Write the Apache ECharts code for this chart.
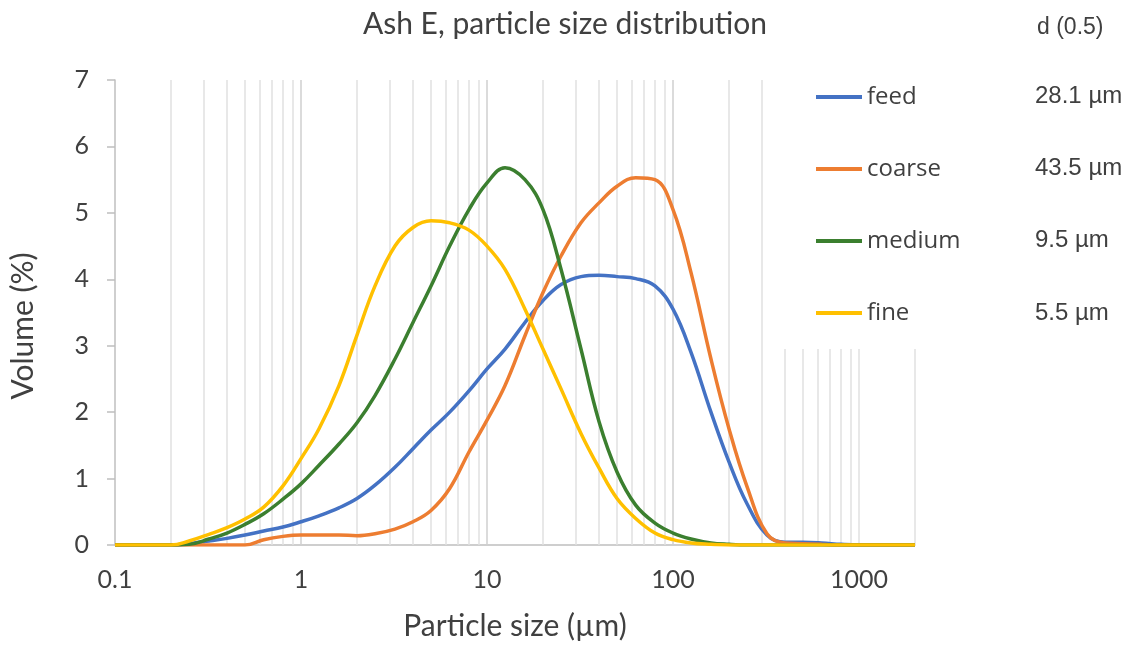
<!DOCTYPE html>
<html>
<head>
<meta charset="utf-8">
<title>Ash E, particle size distribution</title>
<script src="https://cdn.jsdelivr.net/npm/echarts@6/dist/echarts.min.js"></script>
<style>
  html, body { margin: 0; padding: 0; background: #ffffff; }
  #chart { width: 1138px; height: 646px; }
</style>
</head>
<body>
<div id="chart"></div>
<script>
// particle sizes (um) the curves are sampled at, roughly 10 per decade
const sizes = [0.1, 0.2, 0.25, 0.32, 0.4, 0.5, 0.63, 0.8, 1, 1.25, 1.6, 2, 2.5, 3.2, 4, 5, 6.3, 8, 10, 12.5,
  16, 20, 25, 32, 40, 50, 63, 80, 100, 125, 160, 200, 250, 320, 400, 500, 630, 800, 1000, 2000];

// volume % at each size
const feed = [0, 0, 0.02, 0.06, 0.1, 0.15, 0.21, 0.27, 0.35, 0.44, 0.56, 0.7, 0.9, 1.17, 1.45, 1.73, 2.0, 2.32, 2.65, 2.95,
  3.35, 3.68, 3.92, 4.04, 4.06, 4.04, 4.01, 3.9, 3.55, 2.9, 2.0, 1.25, 0.62, 0.15, 0.04, 0.04, 0.03, 0.01, 0, 0];
const coarse = [0, 0, 0, 0, 0, 0, 0.08, 0.13, 0.15, 0.15, 0.15, 0.14, 0.17, 0.24, 0.35, 0.52, 0.85, 1.4, 1.88, 2.4,
  3.15, 3.8, 4.35, 4.85, 5.15, 5.4, 5.53, 5.5, 5.05, 4.1, 2.8, 1.75, 0.88, 0.17, 0.03, 0.02, 0.01, 0, 0, 0];
const medium = [0, 0, 0.01, 0.09, 0.18, 0.31, 0.47, 0.69, 0.92, 1.2, 1.52, 1.84, 2.25, 2.8, 3.35, 3.9, 4.5, 5.05, 5.45, 5.68,
  5.5, 5.05, 4.15, 2.95, 1.86, 1.1, 0.6, 0.33, 0.18, 0.09, 0.03, 0.01, 0, 0, 0, 0, 0, 0, 0, 0];
const fine = [0, 0, 0.06, 0.16, 0.26, 0.39, 0.57, 0.89, 1.3, 1.75, 2.4, 3.16, 3.9, 4.5, 4.78, 4.88, 4.85, 4.74, 4.5, 4.15,
  3.55, 2.95, 2.35, 1.68, 1.16, 0.7, 0.4, 0.18, 0.08, 0.03, 0.01, 0, 0, 0, 0, 0, 0, 0, 0, 0];

const seriesNames = ['feed', 'coarse', 'medium', 'fine'];
const d50 = ['28.1 µm', '43.5 µm', '9.5 µm', '5.5 µm'];
const tickLabels = [0.1, 1, 10, 100, 1000];

// vertical log grid lines; the last group is cut short by the legend box
const gridFull = [0.2, 0.3, 0.4, 0.5, 0.6, 0.7, 0.8, 0.9, 1, 2, 3, 4, 5, 6, 7, 8, 9, 10,
  20, 30, 40, 50, 60, 70, 80, 90, 100, 200, 300];
const gridShort = [400, 500, 600, 700, 800, 900, 1000, 2000];

const colors = ['#4472C4', '#ED7D31', '#3B7F2F', '#FFC000'];
const values = [feed, coarse, medium, fine];
const textColor = '#404040';

const chart = echarts.init(document.getElementById('chart'));

function pairs(ys) {
  return sizes.map((s, i) => [s, ys[i]]);
}

const gridLines = [];
gridFull.forEach(v => {
  const decade = Math.abs(Math.log10(v) - Math.round(Math.log10(v))) < 1e-9;
  gridLines.push([
    { coord: [v, 0], lineStyle: { color: decade ? '#cfcfcf' : '#e0e0e0' } },
    { coord: [v, 7] }
  ]);
});
gridShort.forEach(v => {
  gridLines.push([
    { coord: [v, 0], lineStyle: { color: '#e0e0e0' } },
    { coord: [v, 2.95] }
  ]);
});

const series = [{
  name: 'grid',
  type: 'line',
  data: [],
  silent: true,
  z: 1,
  markLine: {
    silent: true,
    z: 1,
    symbol: 'none',
    animation: false,
    label: { show: false },
    lineStyle: { type: 'solid', width: 1.5, color: '#e0e0e0' },
    data: gridLines
  }
}];

seriesNames.forEach((name, i) => {
  series.push({
    name: name,
    type: 'line',
    data: pairs(values[i]),
    smooth: 0.4,
    showSymbol: false,
    z: 3 + i,
    lineStyle: { width: 3.5, color: colors[i] },
    itemStyle: { color: colors[i] }
  });
});

const option = {
  backgroundColor: '#ffffff',
  animation: false,
  title: {
    text: 'Ash E, particle size distribution',
    left: 560,
    textAlign: 'center',
    top: 4,
    textStyle: { fontFamily: 'Lato', fontSize: 30, fontWeight: 'normal', color: textColor }
  },
  legend: {
    data: seriesNames,
    orient: 'vertical',
    left: 816,
    top: 84,
    padding: 0,
    icon: 'rect',
    itemWidth: 46,
    itemHeight: 4,
    itemGap: 46,
    textStyle: { fontFamily: 'Open Sans', fontSize: 24, color: textColor, lineHeight: 26 }
  },
  grid: { left: 115, right: 223, top: 80, bottom: 100 },
  xAxis: {
    type: 'log',
    logBase: 10,
    min: 0.1,
    max: 2000,
    name: 'Particle size (µm)',
    nameLocation: 'middle',
    nameGap: 66,
    nameTextStyle: { fontFamily: 'Lato', fontSize: 30, color: textColor },
    axisLine: { lineStyle: { color: '#bfbfbf', width: 1.5 } },
    axisTick: { show: false },
    splitLine: { show: false },
    axisLabel: {
      margin: 22,
      fontFamily: 'Lato',
      fontSize: 25,
      color: textColor,
      formatter: function (v) {
        const hit = tickLabels.find(t => Math.abs(Math.log10(v) - Math.log10(t)) < 1e-6);
        return hit === undefined ? '' : String(hit);
      }
    }
  },
  yAxis: {
    type: 'value',
    min: 0,
    max: 7,
    interval: 1,
    axisLine: { show: true, lineStyle: { color: '#bfbfbf', width: 1.5 } },
    axisTick: { show: true, length: 8, lineStyle: { color: '#bfbfbf', width: 1.5 } },
    splitLine: { show: false },
    axisLabel: { margin: 26, fontFamily: 'Lato', fontSize: 25, color: textColor }
  },
  graphic: [
    {
      type: 'text',
      x: 23,
      y: 326,
      rotation: Math.PI / 2,
      style: {
        text: 'Volume (%)', fontFamily: 'Lato', fontSize: 30, fill: textColor,
        align: 'center', verticalAlign: 'middle'
      }
    },
    {
      type: 'text',
      x: 1037,
      y: 28,
      style: { text: 'd (0.5)', fontFamily: 'Liberation Sans', fontSize: 23, fill: textColor, verticalAlign: 'middle' }
    }
  ].concat(d50.map((t, i) => ({
    type: 'text',
    x: 1035,
    y: 96 + i * 72.3,
    style: { text: t, fontFamily: 'Liberation Sans', fontSize: 24, fill: textColor, verticalAlign: 'middle' }
  }))),
  series: series
};

chart.setOption(option);
</script>
</body>
</html>
